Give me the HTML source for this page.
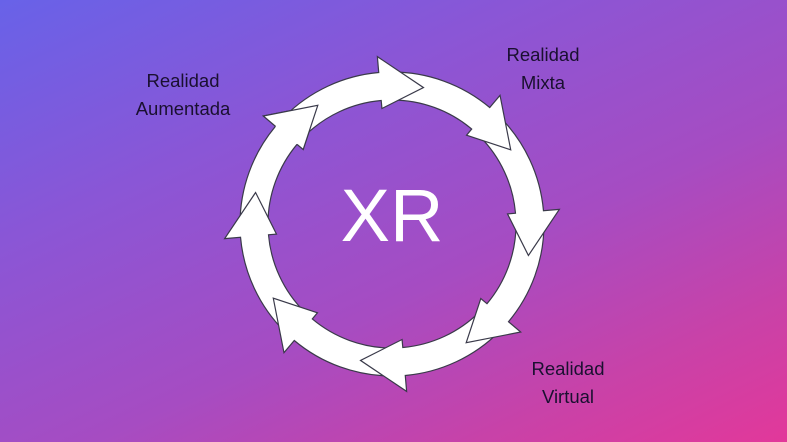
<!DOCTYPE html>
<html><head><meta charset="utf-8"><style>
html,body{margin:0;padding:0}
body{width:787px;height:442px;overflow:hidden;position:relative;
background:linear-gradient(155deg,#6862e8 0%,#8a56d6 30%,#a64cc2 60%,#c842a8 82%,#e2389a 100%);
font-family:"Liberation Sans",sans-serif}
.l{position:absolute;color:#1a1030;font-size:18.5px;text-align:center;line-height:28px;width:160px}
</style></head><body>
<svg width="787" height="442" style="position:absolute;left:0;top:0">
<defs>
<path id="a" d="M80.5,-128.9 A152,152 0 0 1 144.6,-47.0 L159.8,-51.9 L140,0 L110.3,-35.8 L117.9,-38.3 A124,124 0 0 0 65.7,-105.2 Z" fill="#fff" stroke="#3a3a4a" stroke-width="1.2" stroke-linejoin="miter"/>
</defs>
<g transform="translate(392,224)">
<use href="#a" transform="rotate(238)"/>
<use href="#a" transform="rotate(193)"/>
<use href="#a" transform="rotate(148)"/>
<use href="#a" transform="rotate(103)"/>
<use href="#a" transform="rotate(58)"/>
<use href="#a" transform="rotate(13)"/>
<use href="#a" transform="rotate(-32)"/>
<use href="#a" transform="rotate(-77)"/>
<g transform="rotate(238)">
<path d="M140.6,-45.7 L159.8,-51.9 L140,0 L110.3,-35.8 L121.5,-39.5 Z" fill="#fff"/>
<path d="M144.6,-47.0 L159.8,-51.9 L140,0 L110.3,-35.8 L117.9,-38.3" fill="none" stroke="#3a3a4a" stroke-width="1.2"/>
</g>
</g>
<text x="392" y="241" text-anchor="middle" font-family="Liberation Sans, sans-serif" font-size="74" fill="#fff">XR</text>
</svg>
<div class="l" style="left:103px;top:67px">Realidad<br>Aumentada</div>
<div class="l" style="left:463px;top:41px">Realidad<br>Mixta</div>
<div class="l" style="left:488px;top:355px">Realidad<br>Virtual</div>
</body></html>
